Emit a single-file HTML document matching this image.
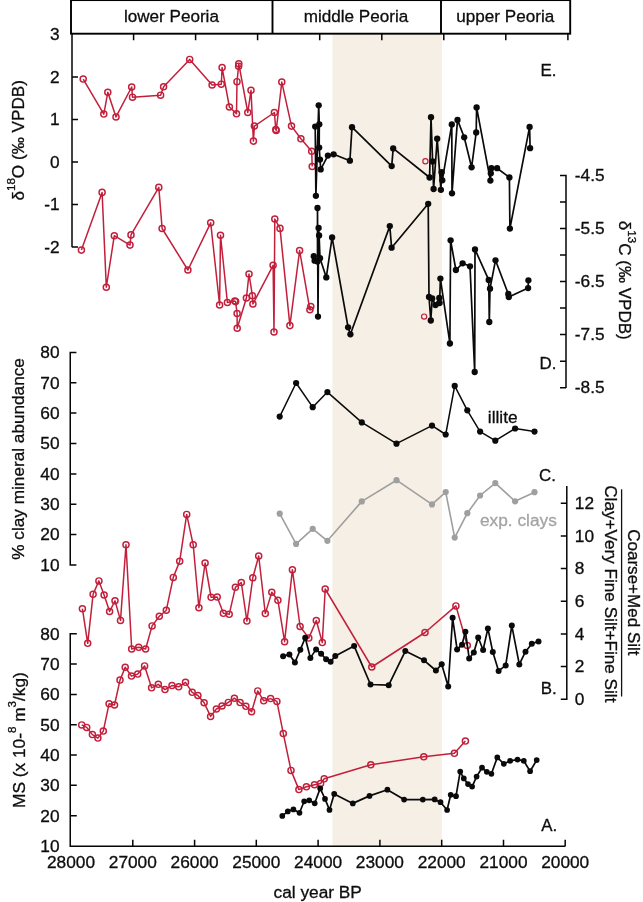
<!DOCTYPE html><html><head><meta charset="utf-8"><title>Peoria loess proxies</title>
<style>html,body{margin:0;padding:0;background:#fff}svg{display:block}text{font-family:"Liberation Sans",Arial,Helvetica,sans-serif;fill:#0d0d0d;stroke:#0d0d0d;stroke-width:0.3px}</style></head><body>
<svg width="643" height="902" viewBox="0 0 643 902">
<rect width="643" height="902" fill="#fff"/>
<rect x="332.4" y="33" width="109.5" height="813" fill="#f5efe5"/>
<rect x="71" y="0.1" width="499.2" height="33.6" stroke="#000" stroke-width="1.9" fill="none"/>
<path d="M272.5 0V33.7M441 0V33.7" stroke="#000" stroke-width="1.9" fill="none"/>
<path d="M133.6 33.5V40.2M195.6 33.5V40.2M257.6 33.5V40.2M319.7 33.5V40.2M381.8 33.5V40.2M443.8 33.5V40.2M505.8 33.5V40.2M567.9 33.5V40.2" stroke="#050505" stroke-width="1.5" fill="none"/>
<text x="171.4" y="22.4" font-size="17.1" text-anchor="middle">lower Peoria</text>
<text x="356" y="22.4" font-size="17.1" text-anchor="middle">middle Peoria</text>
<text x="505.3" y="22.4" font-size="17.1" text-anchor="middle">upper Peoria</text>
<path d="M72 33V247.3M72 77.1H78M72 119.6H78M72 162.1H78M72 204.6H78M72 247.1H78" stroke="#050505" stroke-width="1.5" fill="none"/>
<text x="59.6" y="40.4" font-size="17.3" text-anchor="end">3</text>
<text x="59.6" y="82.9" font-size="17.3" text-anchor="end">2</text>
<text x="59.6" y="125.4" font-size="17.3" text-anchor="end">1</text>
<text x="59.6" y="167.9" font-size="17.3" text-anchor="end">0</text>
<text x="59.6" y="210.4" font-size="17.3" text-anchor="end">-1</text>
<text x="59.6" y="252.9" font-size="17.3" text-anchor="end">-2</text>
<path d="M70.25 351.7V565.8M70.25 352.4H76.4M70.25 382.8H76.4M70.25 413.1H76.4M70.25 443.5H76.4M70.25 473.9H76.4M70.25 504.2H76.4M70.25 534.6H76.4M70.25 565.0H76.4" stroke="#050505" stroke-width="1.5" fill="none"/>
<text x="59.6" y="358.2" font-size="17.3" text-anchor="end">80</text>
<text x="59.6" y="388.6" font-size="17.3" text-anchor="end">70</text>
<text x="59.6" y="418.9" font-size="17.3" text-anchor="end">60</text>
<text x="59.6" y="449.3" font-size="17.3" text-anchor="end">50</text>
<text x="59.6" y="479.7" font-size="17.3" text-anchor="end">40</text>
<text x="59.6" y="510.1" font-size="17.3" text-anchor="end">30</text>
<text x="59.6" y="540.4" font-size="17.3" text-anchor="end">20</text>
<text x="59.6" y="570.8" font-size="17.3" text-anchor="end">10</text>
<path d="M70.25 633.1V846.25H565.3M70.25 633.8H76.8M70.25 664.1H76.8M70.25 694.4H76.8M70.25 724.7H76.8M70.25 755.0H76.8M70.25 785.3H76.8M70.25 815.7H76.8M132.8 846.25V839.8M194.6 846.25V839.8M256.3 846.25V839.8M318.1 846.25V839.8M379.9 846.25V839.8M441.7 846.25V839.8M503.5 846.25V839.8M565.2 846.25V839.8" stroke="#050505" stroke-width="1.5" fill="none"/>
<text x="59.6" y="639.6" font-size="17.3" text-anchor="end">80</text>
<text x="59.6" y="669.9" font-size="17.3" text-anchor="end">70</text>
<text x="59.6" y="700.2" font-size="17.3" text-anchor="end">60</text>
<text x="59.6" y="730.5" font-size="17.3" text-anchor="end">50</text>
<text x="59.6" y="760.8" font-size="17.3" text-anchor="end">40</text>
<text x="59.6" y="791.1" font-size="17.3" text-anchor="end">30</text>
<text x="59.6" y="821.5" font-size="17.3" text-anchor="end">20</text>
<text x="59.6" y="851.8" font-size="17.3" text-anchor="end">10</text>
<text x="71.0" y="868.1" font-size="17.3" text-anchor="middle">28000</text>
<text x="132.8" y="868.1" font-size="17.3" text-anchor="middle">27000</text>
<text x="194.6" y="868.1" font-size="17.3" text-anchor="middle">26000</text>
<text x="256.3" y="868.1" font-size="17.3" text-anchor="middle">25000</text>
<text x="318.1" y="868.1" font-size="17.3" text-anchor="middle">24000</text>
<text x="379.9" y="868.1" font-size="17.3" text-anchor="middle">23000</text>
<text x="441.7" y="868.1" font-size="17.3" text-anchor="middle">22000</text>
<text x="503.5" y="868.1" font-size="17.3" text-anchor="middle">21000</text>
<text x="565.2" y="868.1" font-size="17.3" text-anchor="middle">20000</text>
<text x="317.7" y="897.8" font-size="17.3" text-anchor="middle">cal year BP</text>
<path d="M566 174.7V388M566 175.4H560M566 201.9H560M566 228.5H560M566 255.0H560M566 281.6H560M566 308.1H560M566 334.6H560M566 361.2H560M566 387.7H560" stroke="#050505" stroke-width="1.5" fill="none"/>
<text x="574.8" y="181.1" font-size="17.3">-4.5</text>
<text x="574.8" y="234.2" font-size="17.3">-5.5</text>
<text x="574.8" y="287.3" font-size="17.3">-6.5</text>
<text x="574.8" y="340.3" font-size="17.3">-7.5</text>
<text x="574.8" y="393.4" font-size="17.3">-8.5</text>
<path d="M566.8 485.9V700.0M566.8 699.3H560.8M566.8 666.6H560.8M566.8 633.9H560.8M566.8 601.3H560.8M566.8 568.6H560.8M566.8 535.9H560.8M566.8 503.2H560.8" stroke="#050505" stroke-width="1.5" fill="none"/>
<text x="574.8" y="705.0" font-size="17.3">0</text>
<text x="574.8" y="672.3" font-size="17.3">2</text>
<text x="574.8" y="639.6" font-size="17.3">4</text>
<text x="574.8" y="607.0" font-size="17.3">6</text>
<text x="574.8" y="574.3" font-size="17.3">8</text>
<text x="574.8" y="541.6" font-size="17.3">10</text>
<text x="574.8" y="508.9" font-size="17.3">12</text>
<text transform="translate(24.2 200.6) rotate(-90)" font-size="17.15">δ<tspan dy="-9" font-size="11.6">18</tspan><tspan dy="9">O (‰ VPDB)</tspan></text>
<text transform="translate(24.3 559.7) rotate(-90)" font-size="17.2">% clay mineral abundance</text>
<text transform="translate(24.5 808) rotate(-90)" font-size="17.3">MS (x 10-<tspan dy="-9" font-size="11.6">8</tspan><tspan dy="9"> m</tspan><tspan dy="-9" font-size="11.6">3</tspan><tspan dy="9">/kg)</tspan></text>
<text transform="translate(618.8 220.8) rotate(90)" font-size="17.05">δ<tspan dy="-9" font-size="11.6">13</tspan><tspan dy="9">C (‰ VPDB)</tspan></text>
<text transform="translate(605.4 485.2) rotate(90)" font-size="17.15">Clay+Very Fine Silt+Fine Silt</text>
<path d="M621.6 489.3V696.5" stroke="#111" stroke-width="1.3"/>
<text transform="translate(627.8 529.2) rotate(90)" font-size="17.05">Coarse+Med Silt</text>
<text x="540.6" y="76.1" font-size="16.9">E.</text>
<text x="539.6" y="368.7" font-size="16.9">D.</text>
<text x="539.0" y="481" font-size="16.9">C.</text>
<text x="540.8" y="693.5" font-size="16.9">B.</text>
<text x="541.2" y="831.1" font-size="16.9">A.</text>
<text x="487.8" y="423.0" font-size="17.3">illite</text>
<text x="480" y="525.8" font-size="17.3" style="fill:#a4a4a4;stroke:#a4a4a4">exp. clays</text>
<polyline points="279.7,513.7 296.1,543.9 312.7,528.8 327.4,540.8 361.8,501.4 396.5,480.2 432.0,504.4 445.7,492.1 454.7,537.6 467.3,513.2 480.1,495.5 495.3,483.1 515.1,501.3 534.5,492.2" fill="none" stroke="#9f9f9f" stroke-width="1.6" stroke-linejoin="round"/>
<circle cx="279.7" cy="513.7" r="3.1" fill="#9f9f9f"/><circle cx="296.1" cy="543.9" r="3.1" fill="#9f9f9f"/><circle cx="312.7" cy="528.8" r="3.1" fill="#9f9f9f"/><circle cx="327.4" cy="540.8" r="3.1" fill="#9f9f9f"/><circle cx="361.8" cy="501.4" r="3.1" fill="#9f9f9f"/><circle cx="396.5" cy="480.2" r="3.1" fill="#9f9f9f"/><circle cx="432.0" cy="504.4" r="3.1" fill="#9f9f9f"/><circle cx="445.7" cy="492.1" r="3.1" fill="#9f9f9f"/><circle cx="454.7" cy="537.6" r="3.1" fill="#9f9f9f"/><circle cx="467.3" cy="513.2" r="3.1" fill="#9f9f9f"/><circle cx="480.1" cy="495.5" r="3.1" fill="#9f9f9f"/><circle cx="495.3" cy="483.1" r="3.1" fill="#9f9f9f"/><circle cx="515.1" cy="501.3" r="3.1" fill="#9f9f9f"/><circle cx="534.5" cy="492.2" r="3.1" fill="#9f9f9f"/>
<polyline points="279.7,416.6 296.1,383.0 312.7,407.2 327.4,392.1 361.8,422.4 396.5,443.7 432.0,425.6 445.7,434.5 454.7,385.9 467.3,410.3 480.1,431.6 495.3,440.7 515.1,428.5 534.5,431.6" fill="none" stroke="#0a0a0a" stroke-width="1.5" stroke-linejoin="round"/>
<circle cx="279.7" cy="416.6" r="3.1" fill="#0a0a0a"/><circle cx="296.1" cy="383.0" r="3.1" fill="#0a0a0a"/><circle cx="312.7" cy="407.2" r="3.1" fill="#0a0a0a"/><circle cx="327.4" cy="392.1" r="3.1" fill="#0a0a0a"/><circle cx="361.8" cy="422.4" r="3.1" fill="#0a0a0a"/><circle cx="396.5" cy="443.7" r="3.1" fill="#0a0a0a"/><circle cx="432.0" cy="425.6" r="3.1" fill="#0a0a0a"/><circle cx="445.7" cy="434.5" r="3.1" fill="#0a0a0a"/><circle cx="454.7" cy="385.9" r="3.1" fill="#0a0a0a"/><circle cx="467.3" cy="410.3" r="3.1" fill="#0a0a0a"/><circle cx="480.1" cy="431.6" r="3.1" fill="#0a0a0a"/><circle cx="495.3" cy="440.7" r="3.1" fill="#0a0a0a"/><circle cx="515.1" cy="428.5" r="3.1" fill="#0a0a0a"/><circle cx="534.5" cy="431.6" r="3.1" fill="#0a0a0a"/>
<polyline points="83.2,79.1 103.8,114.1 107.8,92.3 116.0,116.9 131.7,87.0 132.5,97.2 160.6,95.2 163.6,86.8 189.7,59.4 212.1,85.0 221.3,84.2 222.1,67.6 229.4,107.0 236.5,113.8 237.0,81.7 238.6,66.2 238.8,63.8 247.8,112.5 251.0,90.3 253.4,141.1 254.4,126.1 274.4,112.5 275.8,129.5 276.2,130.5 281.8,82.1 291.5,126.1 300.9,138.8 311.7,151.3 312.2,166.5" fill="none" stroke="#c21f3b" stroke-width="1.5" stroke-linejoin="round"/>
<circle cx="83.2" cy="79.1" r="3.05" fill="none" stroke="#c21f3b" stroke-width="1.45"/><circle cx="103.8" cy="114.1" r="3.05" fill="none" stroke="#c21f3b" stroke-width="1.45"/><circle cx="107.8" cy="92.3" r="3.05" fill="none" stroke="#c21f3b" stroke-width="1.45"/><circle cx="116.0" cy="116.9" r="3.05" fill="none" stroke="#c21f3b" stroke-width="1.45"/><circle cx="131.7" cy="87.0" r="3.05" fill="none" stroke="#c21f3b" stroke-width="1.45"/><circle cx="132.5" cy="97.2" r="3.05" fill="none" stroke="#c21f3b" stroke-width="1.45"/><circle cx="160.6" cy="95.2" r="3.05" fill="none" stroke="#c21f3b" stroke-width="1.45"/><circle cx="163.6" cy="86.8" r="3.05" fill="none" stroke="#c21f3b" stroke-width="1.45"/><circle cx="189.7" cy="59.4" r="3.05" fill="none" stroke="#c21f3b" stroke-width="1.45"/><circle cx="212.1" cy="85.0" r="3.05" fill="none" stroke="#c21f3b" stroke-width="1.45"/><circle cx="221.3" cy="84.2" r="3.05" fill="none" stroke="#c21f3b" stroke-width="1.45"/><circle cx="222.1" cy="67.6" r="3.05" fill="none" stroke="#c21f3b" stroke-width="1.45"/><circle cx="229.4" cy="107.0" r="3.05" fill="none" stroke="#c21f3b" stroke-width="1.45"/><circle cx="236.5" cy="113.8" r="3.05" fill="none" stroke="#c21f3b" stroke-width="1.45"/><circle cx="237.0" cy="81.7" r="3.05" fill="none" stroke="#c21f3b" stroke-width="1.45"/><circle cx="238.6" cy="66.2" r="3.05" fill="none" stroke="#c21f3b" stroke-width="1.45"/><circle cx="238.8" cy="63.8" r="3.05" fill="none" stroke="#c21f3b" stroke-width="1.45"/><circle cx="247.8" cy="112.5" r="3.05" fill="none" stroke="#c21f3b" stroke-width="1.45"/><circle cx="251.0" cy="90.3" r="3.05" fill="none" stroke="#c21f3b" stroke-width="1.45"/><circle cx="253.4" cy="141.1" r="3.05" fill="none" stroke="#c21f3b" stroke-width="1.45"/><circle cx="254.4" cy="126.1" r="3.05" fill="none" stroke="#c21f3b" stroke-width="1.45"/><circle cx="274.4" cy="112.5" r="3.05" fill="none" stroke="#c21f3b" stroke-width="1.45"/><circle cx="275.8" cy="129.5" r="3.05" fill="none" stroke="#c21f3b" stroke-width="1.45"/><circle cx="276.2" cy="130.5" r="3.05" fill="none" stroke="#c21f3b" stroke-width="1.45"/><circle cx="281.8" cy="82.1" r="3.05" fill="none" stroke="#c21f3b" stroke-width="1.45"/><circle cx="291.5" cy="126.1" r="3.05" fill="none" stroke="#c21f3b" stroke-width="1.45"/><circle cx="300.9" cy="138.8" r="3.05" fill="none" stroke="#c21f3b" stroke-width="1.45"/><circle cx="311.7" cy="151.3" r="3.05" fill="none" stroke="#c21f3b" stroke-width="1.45"/><circle cx="312.2" cy="166.5" r="3.05" fill="none" stroke="#c21f3b" stroke-width="1.45"/>
<polyline points="81.4,250.1 102.1,192.4 106.3,287.2 114.3,235.7 130.0,245.1 131.0,234.9 158.8,187.4 162.1,228.5 187.9,270.0 210.7,222.8 219.6,305.0 220.5,235.2 227.4,302.5 234.8,301.0 235.6,301.6 237.1,313.5 237.2,328.2 246.4,298.0 249.0,274.1 252.4,295.7 252.9,304.0 273.1,265.3 274.0,332.0 274.8,219.0 280.0,228.4 289.9,325.6 299.6,250.6 309.9,309.7 310.8,306.6" fill="none" stroke="#c21f3b" stroke-width="1.5" stroke-linejoin="round"/>
<circle cx="81.4" cy="250.1" r="3.05" fill="none" stroke="#c21f3b" stroke-width="1.45"/><circle cx="102.1" cy="192.4" r="3.05" fill="none" stroke="#c21f3b" stroke-width="1.45"/><circle cx="106.3" cy="287.2" r="3.05" fill="none" stroke="#c21f3b" stroke-width="1.45"/><circle cx="114.3" cy="235.7" r="3.05" fill="none" stroke="#c21f3b" stroke-width="1.45"/><circle cx="130.0" cy="245.1" r="3.05" fill="none" stroke="#c21f3b" stroke-width="1.45"/><circle cx="131.0" cy="234.9" r="3.05" fill="none" stroke="#c21f3b" stroke-width="1.45"/><circle cx="158.8" cy="187.4" r="3.05" fill="none" stroke="#c21f3b" stroke-width="1.45"/><circle cx="162.1" cy="228.5" r="3.05" fill="none" stroke="#c21f3b" stroke-width="1.45"/><circle cx="187.9" cy="270.0" r="3.05" fill="none" stroke="#c21f3b" stroke-width="1.45"/><circle cx="210.7" cy="222.8" r="3.05" fill="none" stroke="#c21f3b" stroke-width="1.45"/><circle cx="219.6" cy="305.0" r="3.05" fill="none" stroke="#c21f3b" stroke-width="1.45"/><circle cx="220.5" cy="235.2" r="3.05" fill="none" stroke="#c21f3b" stroke-width="1.45"/><circle cx="227.4" cy="302.5" r="3.05" fill="none" stroke="#c21f3b" stroke-width="1.45"/><circle cx="234.8" cy="301.0" r="3.05" fill="none" stroke="#c21f3b" stroke-width="1.45"/><circle cx="235.6" cy="301.6" r="3.05" fill="none" stroke="#c21f3b" stroke-width="1.45"/><circle cx="237.1" cy="313.5" r="3.05" fill="none" stroke="#c21f3b" stroke-width="1.45"/><circle cx="237.2" cy="328.2" r="3.05" fill="none" stroke="#c21f3b" stroke-width="1.45"/><circle cx="246.4" cy="298.0" r="3.05" fill="none" stroke="#c21f3b" stroke-width="1.45"/><circle cx="249.0" cy="274.1" r="3.05" fill="none" stroke="#c21f3b" stroke-width="1.45"/><circle cx="252.4" cy="295.7" r="3.05" fill="none" stroke="#c21f3b" stroke-width="1.45"/><circle cx="252.9" cy="304.0" r="3.05" fill="none" stroke="#c21f3b" stroke-width="1.45"/><circle cx="273.1" cy="265.3" r="3.05" fill="none" stroke="#c21f3b" stroke-width="1.45"/><circle cx="274.0" cy="332.0" r="3.05" fill="none" stroke="#c21f3b" stroke-width="1.45"/><circle cx="274.8" cy="219.0" r="3.05" fill="none" stroke="#c21f3b" stroke-width="1.45"/><circle cx="280.0" cy="228.4" r="3.05" fill="none" stroke="#c21f3b" stroke-width="1.45"/><circle cx="289.9" cy="325.6" r="3.05" fill="none" stroke="#c21f3b" stroke-width="1.45"/><circle cx="299.6" cy="250.6" r="3.05" fill="none" stroke="#c21f3b" stroke-width="1.45"/><circle cx="309.9" cy="309.7" r="3.05" fill="none" stroke="#c21f3b" stroke-width="1.45"/><circle cx="310.8" cy="306.6" r="3.05" fill="none" stroke="#c21f3b" stroke-width="1.45"/>
<polyline points="82.4,608.7 87.7,643.3 93.1,594.3 98.9,580.9 104.1,595.0 109.6,611.5 115.0,600.8 120.5,620.4 126.0,544.8 131.7,649.0 138.7,647.3 145.6,649.0 152.1,625.9 159.3,616.2 166.3,610.2 173.3,577.4 179.7,561.2 186.7,514.4 193.2,544.8 198.9,607.7 205.1,563.0 211.1,597.3 217.2,597.1 223.4,613.3 229.2,614.3 235.4,587.3 241.3,582.5 246.9,621.1 252.8,577.8 258.7,556.0 265.3,613.6 271.8,592.2 277.9,600.3 284.6,641.7 292.4,569.7 300.1,626.5 308.8,638.1 316.3,620.5 322.3,642.6 325.2,589.0 371.8,667.0 425.0,632.5 455.9,605.9 467.3,645.5" fill="none" stroke="#c21f3b" stroke-width="1.5" stroke-linejoin="round"/>
<circle cx="82.4" cy="608.7" r="3.05" fill="none" stroke="#c21f3b" stroke-width="1.45"/><circle cx="87.7" cy="643.3" r="3.05" fill="none" stroke="#c21f3b" stroke-width="1.45"/><circle cx="93.1" cy="594.3" r="3.05" fill="none" stroke="#c21f3b" stroke-width="1.45"/><circle cx="98.9" cy="580.9" r="3.05" fill="none" stroke="#c21f3b" stroke-width="1.45"/><circle cx="104.1" cy="595.0" r="3.05" fill="none" stroke="#c21f3b" stroke-width="1.45"/><circle cx="109.6" cy="611.5" r="3.05" fill="none" stroke="#c21f3b" stroke-width="1.45"/><circle cx="115.0" cy="600.8" r="3.05" fill="none" stroke="#c21f3b" stroke-width="1.45"/><circle cx="120.5" cy="620.4" r="3.05" fill="none" stroke="#c21f3b" stroke-width="1.45"/><circle cx="126.0" cy="544.8" r="3.05" fill="none" stroke="#c21f3b" stroke-width="1.45"/><circle cx="131.7" cy="649.0" r="3.05" fill="none" stroke="#c21f3b" stroke-width="1.45"/><circle cx="138.7" cy="647.3" r="3.05" fill="none" stroke="#c21f3b" stroke-width="1.45"/><circle cx="145.6" cy="649.0" r="3.05" fill="none" stroke="#c21f3b" stroke-width="1.45"/><circle cx="152.1" cy="625.9" r="3.05" fill="none" stroke="#c21f3b" stroke-width="1.45"/><circle cx="159.3" cy="616.2" r="3.05" fill="none" stroke="#c21f3b" stroke-width="1.45"/><circle cx="166.3" cy="610.2" r="3.05" fill="none" stroke="#c21f3b" stroke-width="1.45"/><circle cx="173.3" cy="577.4" r="3.05" fill="none" stroke="#c21f3b" stroke-width="1.45"/><circle cx="179.7" cy="561.2" r="3.05" fill="none" stroke="#c21f3b" stroke-width="1.45"/><circle cx="186.7" cy="514.4" r="3.05" fill="none" stroke="#c21f3b" stroke-width="1.45"/><circle cx="193.2" cy="544.8" r="3.05" fill="none" stroke="#c21f3b" stroke-width="1.45"/><circle cx="198.9" cy="607.7" r="3.05" fill="none" stroke="#c21f3b" stroke-width="1.45"/><circle cx="205.1" cy="563.0" r="3.05" fill="none" stroke="#c21f3b" stroke-width="1.45"/><circle cx="211.1" cy="597.3" r="3.05" fill="none" stroke="#c21f3b" stroke-width="1.45"/><circle cx="217.2" cy="597.1" r="3.05" fill="none" stroke="#c21f3b" stroke-width="1.45"/><circle cx="223.4" cy="613.3" r="3.05" fill="none" stroke="#c21f3b" stroke-width="1.45"/><circle cx="229.2" cy="614.3" r="3.05" fill="none" stroke="#c21f3b" stroke-width="1.45"/><circle cx="235.4" cy="587.3" r="3.05" fill="none" stroke="#c21f3b" stroke-width="1.45"/><circle cx="241.3" cy="582.5" r="3.05" fill="none" stroke="#c21f3b" stroke-width="1.45"/><circle cx="246.9" cy="621.1" r="3.05" fill="none" stroke="#c21f3b" stroke-width="1.45"/><circle cx="252.8" cy="577.8" r="3.05" fill="none" stroke="#c21f3b" stroke-width="1.45"/><circle cx="258.7" cy="556.0" r="3.05" fill="none" stroke="#c21f3b" stroke-width="1.45"/><circle cx="265.3" cy="613.6" r="3.05" fill="none" stroke="#c21f3b" stroke-width="1.45"/><circle cx="271.8" cy="592.2" r="3.05" fill="none" stroke="#c21f3b" stroke-width="1.45"/><circle cx="277.9" cy="600.3" r="3.05" fill="none" stroke="#c21f3b" stroke-width="1.45"/><circle cx="284.6" cy="641.7" r="3.05" fill="none" stroke="#c21f3b" stroke-width="1.45"/><circle cx="292.4" cy="569.7" r="3.05" fill="none" stroke="#c21f3b" stroke-width="1.45"/><circle cx="300.1" cy="626.5" r="3.05" fill="none" stroke="#c21f3b" stroke-width="1.45"/><circle cx="308.8" cy="638.1" r="3.05" fill="none" stroke="#c21f3b" stroke-width="1.45"/><circle cx="316.3" cy="620.5" r="3.05" fill="none" stroke="#c21f3b" stroke-width="1.45"/><circle cx="322.3" cy="642.6" r="3.05" fill="none" stroke="#c21f3b" stroke-width="1.45"/><circle cx="325.2" cy="589.0" r="3.05" fill="none" stroke="#c21f3b" stroke-width="1.45"/><circle cx="371.8" cy="667.0" r="3.05" fill="none" stroke="#c21f3b" stroke-width="1.45"/><circle cx="425.0" cy="632.5" r="3.05" fill="none" stroke="#c21f3b" stroke-width="1.45"/><circle cx="455.9" cy="605.9" r="3.05" fill="none" stroke="#c21f3b" stroke-width="1.45"/><circle cx="467.3" cy="645.5" r="3.05" fill="none" stroke="#c21f3b" stroke-width="1.45"/>
<polyline points="81.7,724.9 86.7,727.4 92.4,734.6 97.9,738.1 103.3,731.1 109.1,703.7 114.5,705.0 120.0,680.1 125.2,667.2 131.5,676.1 137.7,674.1 144.6,665.9 151.6,687.8 158.3,684.3 165.0,689.6 172.0,685.6 178.7,686.8 185.5,682.3 192.2,692.3 197.9,695.5 204.1,702.7 210.6,716.4 216.4,709.0 222.0,706.0 228.3,702.4 234.4,698.2 240.1,702.6 245.9,706.3 251.6,711.7 257.7,690.9 263.7,700.8 270.6,698.6 276.9,701.4 283.3,733.6 291.0,770.4 298.9,789.6 306.4,786.8 314.5,784.7 320.6,783.5 324.2,778.8 370.8,764.8 423.8,756.8 454.4,753.3 465.4,741.1" fill="none" stroke="#c21f3b" stroke-width="1.5" stroke-linejoin="round"/>
<circle cx="81.7" cy="724.9" r="3.05" fill="none" stroke="#c21f3b" stroke-width="1.45"/><circle cx="86.7" cy="727.4" r="3.05" fill="none" stroke="#c21f3b" stroke-width="1.45"/><circle cx="92.4" cy="734.6" r="3.05" fill="none" stroke="#c21f3b" stroke-width="1.45"/><circle cx="97.9" cy="738.1" r="3.05" fill="none" stroke="#c21f3b" stroke-width="1.45"/><circle cx="103.3" cy="731.1" r="3.05" fill="none" stroke="#c21f3b" stroke-width="1.45"/><circle cx="109.1" cy="703.7" r="3.05" fill="none" stroke="#c21f3b" stroke-width="1.45"/><circle cx="114.5" cy="705.0" r="3.05" fill="none" stroke="#c21f3b" stroke-width="1.45"/><circle cx="120.0" cy="680.1" r="3.05" fill="none" stroke="#c21f3b" stroke-width="1.45"/><circle cx="125.2" cy="667.2" r="3.05" fill="none" stroke="#c21f3b" stroke-width="1.45"/><circle cx="131.5" cy="676.1" r="3.05" fill="none" stroke="#c21f3b" stroke-width="1.45"/><circle cx="137.7" cy="674.1" r="3.05" fill="none" stroke="#c21f3b" stroke-width="1.45"/><circle cx="144.6" cy="665.9" r="3.05" fill="none" stroke="#c21f3b" stroke-width="1.45"/><circle cx="151.6" cy="687.8" r="3.05" fill="none" stroke="#c21f3b" stroke-width="1.45"/><circle cx="158.3" cy="684.3" r="3.05" fill="none" stroke="#c21f3b" stroke-width="1.45"/><circle cx="165.0" cy="689.6" r="3.05" fill="none" stroke="#c21f3b" stroke-width="1.45"/><circle cx="172.0" cy="685.6" r="3.05" fill="none" stroke="#c21f3b" stroke-width="1.45"/><circle cx="178.7" cy="686.8" r="3.05" fill="none" stroke="#c21f3b" stroke-width="1.45"/><circle cx="185.5" cy="682.3" r="3.05" fill="none" stroke="#c21f3b" stroke-width="1.45"/><circle cx="192.2" cy="692.3" r="3.05" fill="none" stroke="#c21f3b" stroke-width="1.45"/><circle cx="197.9" cy="695.5" r="3.05" fill="none" stroke="#c21f3b" stroke-width="1.45"/><circle cx="204.1" cy="702.7" r="3.05" fill="none" stroke="#c21f3b" stroke-width="1.45"/><circle cx="210.6" cy="716.4" r="3.05" fill="none" stroke="#c21f3b" stroke-width="1.45"/><circle cx="216.4" cy="709.0" r="3.05" fill="none" stroke="#c21f3b" stroke-width="1.45"/><circle cx="222.0" cy="706.0" r="3.05" fill="none" stroke="#c21f3b" stroke-width="1.45"/><circle cx="228.3" cy="702.4" r="3.05" fill="none" stroke="#c21f3b" stroke-width="1.45"/><circle cx="234.4" cy="698.2" r="3.05" fill="none" stroke="#c21f3b" stroke-width="1.45"/><circle cx="240.1" cy="702.6" r="3.05" fill="none" stroke="#c21f3b" stroke-width="1.45"/><circle cx="245.9" cy="706.3" r="3.05" fill="none" stroke="#c21f3b" stroke-width="1.45"/><circle cx="251.6" cy="711.7" r="3.05" fill="none" stroke="#c21f3b" stroke-width="1.45"/><circle cx="257.7" cy="690.9" r="3.05" fill="none" stroke="#c21f3b" stroke-width="1.45"/><circle cx="263.7" cy="700.8" r="3.05" fill="none" stroke="#c21f3b" stroke-width="1.45"/><circle cx="270.6" cy="698.6" r="3.05" fill="none" stroke="#c21f3b" stroke-width="1.45"/><circle cx="276.9" cy="701.4" r="3.05" fill="none" stroke="#c21f3b" stroke-width="1.45"/><circle cx="283.3" cy="733.6" r="3.05" fill="none" stroke="#c21f3b" stroke-width="1.45"/><circle cx="291.0" cy="770.4" r="3.05" fill="none" stroke="#c21f3b" stroke-width="1.45"/><circle cx="298.9" cy="789.6" r="3.05" fill="none" stroke="#c21f3b" stroke-width="1.45"/><circle cx="306.4" cy="786.8" r="3.05" fill="none" stroke="#c21f3b" stroke-width="1.45"/><circle cx="314.5" cy="784.7" r="3.05" fill="none" stroke="#c21f3b" stroke-width="1.45"/><circle cx="320.6" cy="783.5" r="3.05" fill="none" stroke="#c21f3b" stroke-width="1.45"/><circle cx="324.2" cy="778.8" r="3.05" fill="none" stroke="#c21f3b" stroke-width="1.45"/><circle cx="370.8" cy="764.8" r="3.05" fill="none" stroke="#c21f3b" stroke-width="1.45"/><circle cx="423.8" cy="756.8" r="3.05" fill="none" stroke="#c21f3b" stroke-width="1.45"/><circle cx="454.4" cy="753.3" r="3.05" fill="none" stroke="#c21f3b" stroke-width="1.45"/><circle cx="465.4" cy="741.1" r="3.05" fill="none" stroke="#c21f3b" stroke-width="1.45"/>
<circle cx="425.4" cy="161.2" r="2.6" fill="none" stroke="#c21f3b" stroke-width="1.2"/>
<circle cx="424.1" cy="316.6" r="2.6" fill="none" stroke="#c21f3b" stroke-width="1.2"/>
<polyline points="315.2,126.6 315.9,195.8 318.7,105.3 319.3,124.3 319.2,147.6 320.0,159.6 320.7,169.4 327.9,155.6 333.6,154.3 349.9,160.7 352.0,127.2 391.7,166.1 393.2,148.4 429.6,177.5 431.0,117.2 432.6,161.5 433.6,189.0 437.2,138.7 440.9,189.8 441.6,172.2 442.3,180.3 451.8,124.4 452.0,193.3 457.5,119.9 464.2,137.3 471.6,167.3 476.2,132.5 476.6,107.4 490.4,180.6 490.8,173.3 491.4,168.2 497.1,168.2 509.4,177.4 509.9,228.6 529.6,126.9 530.1,148.2" fill="none" stroke="#0a0a0a" stroke-width="1.7" stroke-linejoin="round"/>
<circle cx="315.2" cy="126.6" r="3.15" fill="#0a0a0a"/><circle cx="315.9" cy="195.8" r="3.15" fill="#0a0a0a"/><circle cx="318.7" cy="105.3" r="3.15" fill="#0a0a0a"/><circle cx="319.3" cy="124.3" r="3.15" fill="#0a0a0a"/><circle cx="319.2" cy="147.6" r="3.15" fill="#0a0a0a"/><circle cx="320.0" cy="159.6" r="3.15" fill="#0a0a0a"/><circle cx="320.7" cy="169.4" r="3.15" fill="#0a0a0a"/><circle cx="327.9" cy="155.6" r="3.15" fill="#0a0a0a"/><circle cx="333.6" cy="154.3" r="3.15" fill="#0a0a0a"/><circle cx="349.9" cy="160.7" r="3.15" fill="#0a0a0a"/><circle cx="352.0" cy="127.2" r="3.15" fill="#0a0a0a"/><circle cx="391.7" cy="166.1" r="3.15" fill="#0a0a0a"/><circle cx="393.2" cy="148.4" r="3.15" fill="#0a0a0a"/><circle cx="429.6" cy="177.5" r="3.15" fill="#0a0a0a"/><circle cx="431.0" cy="117.2" r="3.15" fill="#0a0a0a"/><circle cx="432.6" cy="161.5" r="3.15" fill="#0a0a0a"/><circle cx="433.6" cy="189.0" r="3.15" fill="#0a0a0a"/><circle cx="437.2" cy="138.7" r="3.15" fill="#0a0a0a"/><circle cx="440.9" cy="189.8" r="3.15" fill="#0a0a0a"/><circle cx="441.6" cy="172.2" r="3.15" fill="#0a0a0a"/><circle cx="442.3" cy="180.3" r="3.15" fill="#0a0a0a"/><circle cx="451.8" cy="124.4" r="3.15" fill="#0a0a0a"/><circle cx="452.0" cy="193.3" r="3.15" fill="#0a0a0a"/><circle cx="457.5" cy="119.9" r="3.15" fill="#0a0a0a"/><circle cx="464.2" cy="137.3" r="3.15" fill="#0a0a0a"/><circle cx="471.6" cy="167.3" r="3.15" fill="#0a0a0a"/><circle cx="476.2" cy="132.5" r="3.15" fill="#0a0a0a"/><circle cx="476.6" cy="107.4" r="3.15" fill="#0a0a0a"/><circle cx="490.4" cy="180.6" r="3.15" fill="#0a0a0a"/><circle cx="490.8" cy="173.3" r="3.15" fill="#0a0a0a"/><circle cx="491.4" cy="168.2" r="3.15" fill="#0a0a0a"/><circle cx="497.1" cy="168.2" r="3.15" fill="#0a0a0a"/><circle cx="509.4" cy="177.4" r="3.15" fill="#0a0a0a"/><circle cx="509.9" cy="228.6" r="3.15" fill="#0a0a0a"/><circle cx="529.6" cy="126.9" r="3.15" fill="#0a0a0a"/><circle cx="530.1" cy="148.2" r="3.15" fill="#0a0a0a"/>
<polyline points="313.8,256.2 314.6,260.7 317.5,261.6 317.5,208.0 318.0,316.6 318.6,227.9 319.1,235.4 320.0,258.2 326.3,277.4 332.1,237.4 348.1,327.3 350.4,334.3 389.8,226.1 391.6,247.7 428.2,203.8 429.0,296.9 430.8,320.5 432.2,298.4 435.5,305.1 439.3,297.9 439.6,303.0 440.4,278.6 449.9,343.5 450.6,240.3 455.9,270.0 462.6,263.3 470.0,266.3 474.7,372.0 475.0,249.4 488.7,279.9 489.3,322.0 490.0,288.7 495.5,260.3 508.3,294.0 508.8,297.0 528.1,288.1 528.4,280.3" fill="none" stroke="#0a0a0a" stroke-width="1.7" stroke-linejoin="round"/>
<circle cx="313.8" cy="256.2" r="3.15" fill="#0a0a0a"/><circle cx="314.6" cy="260.7" r="3.15" fill="#0a0a0a"/><circle cx="317.5" cy="261.6" r="3.15" fill="#0a0a0a"/><circle cx="317.5" cy="208.0" r="3.15" fill="#0a0a0a"/><circle cx="318.0" cy="316.6" r="3.15" fill="#0a0a0a"/><circle cx="318.6" cy="227.9" r="3.15" fill="#0a0a0a"/><circle cx="319.1" cy="235.4" r="3.15" fill="#0a0a0a"/><circle cx="320.0" cy="258.2" r="3.15" fill="#0a0a0a"/><circle cx="326.3" cy="277.4" r="3.15" fill="#0a0a0a"/><circle cx="332.1" cy="237.4" r="3.15" fill="#0a0a0a"/><circle cx="348.1" cy="327.3" r="3.15" fill="#0a0a0a"/><circle cx="350.4" cy="334.3" r="3.15" fill="#0a0a0a"/><circle cx="389.8" cy="226.1" r="3.15" fill="#0a0a0a"/><circle cx="391.6" cy="247.7" r="3.15" fill="#0a0a0a"/><circle cx="428.2" cy="203.8" r="3.15" fill="#0a0a0a"/><circle cx="429.0" cy="296.9" r="3.15" fill="#0a0a0a"/><circle cx="430.8" cy="320.5" r="3.15" fill="#0a0a0a"/><circle cx="432.2" cy="298.4" r="3.15" fill="#0a0a0a"/><circle cx="435.5" cy="305.1" r="3.15" fill="#0a0a0a"/><circle cx="439.3" cy="297.9" r="3.15" fill="#0a0a0a"/><circle cx="439.6" cy="303.0" r="3.15" fill="#0a0a0a"/><circle cx="440.4" cy="278.6" r="3.15" fill="#0a0a0a"/><circle cx="449.9" cy="343.5" r="3.15" fill="#0a0a0a"/><circle cx="450.6" cy="240.3" r="3.15" fill="#0a0a0a"/><circle cx="455.9" cy="270.0" r="3.15" fill="#0a0a0a"/><circle cx="462.6" cy="263.3" r="3.15" fill="#0a0a0a"/><circle cx="470.0" cy="266.3" r="3.15" fill="#0a0a0a"/><circle cx="474.7" cy="372.0" r="3.15" fill="#0a0a0a"/><circle cx="475.0" cy="249.4" r="3.15" fill="#0a0a0a"/><circle cx="488.7" cy="279.9" r="3.15" fill="#0a0a0a"/><circle cx="489.3" cy="322.0" r="3.15" fill="#0a0a0a"/><circle cx="490.0" cy="288.7" r="3.15" fill="#0a0a0a"/><circle cx="495.5" cy="260.3" r="3.15" fill="#0a0a0a"/><circle cx="508.3" cy="294.0" r="3.15" fill="#0a0a0a"/><circle cx="508.8" cy="297.0" r="3.15" fill="#0a0a0a"/><circle cx="528.1" cy="288.1" r="3.15" fill="#0a0a0a"/><circle cx="528.4" cy="280.3" r="3.15" fill="#0a0a0a"/>
<polyline points="283.1,656.3 289.4,654.4 294.9,662.5 300.3,649.8 305.2,637.7 310.4,657.9 316.1,649.4 321.1,653.8 326.1,659.3 330.6,661.7 335.3,655.9 354.1,645.9 370.5,684.5 388.7,685.2 405.3,651.1 424.0,660.3 435.9,670.5 441.7,664.3 448.2,686.6 452.6,617.8 457.1,649.6 462.0,644.7 465.4,631.7 469.2,658.4 473.8,652.5 478.2,637.5 483.1,650.0 487.9,628.4 492.8,652.1 498.6,670.9 505.7,665.4 511.8,625.6 519.3,664.4 525.5,651.7 531.8,643.8 538.5,641.4" fill="none" stroke="#0a0a0a" stroke-width="1.7" stroke-linejoin="round"/>
<circle cx="283.1" cy="656.3" r="3.0" fill="#0a0a0a"/><circle cx="289.4" cy="654.4" r="3.0" fill="#0a0a0a"/><circle cx="294.9" cy="662.5" r="3.0" fill="#0a0a0a"/><circle cx="300.3" cy="649.8" r="3.0" fill="#0a0a0a"/><circle cx="305.2" cy="637.7" r="3.0" fill="#0a0a0a"/><circle cx="310.4" cy="657.9" r="3.0" fill="#0a0a0a"/><circle cx="316.1" cy="649.4" r="3.0" fill="#0a0a0a"/><circle cx="321.1" cy="653.8" r="3.0" fill="#0a0a0a"/><circle cx="326.1" cy="659.3" r="3.0" fill="#0a0a0a"/><circle cx="330.6" cy="661.7" r="3.0" fill="#0a0a0a"/><circle cx="335.3" cy="655.9" r="3.0" fill="#0a0a0a"/><circle cx="354.1" cy="645.9" r="3.0" fill="#0a0a0a"/><circle cx="370.5" cy="684.5" r="3.0" fill="#0a0a0a"/><circle cx="388.7" cy="685.2" r="3.0" fill="#0a0a0a"/><circle cx="405.3" cy="651.1" r="3.0" fill="#0a0a0a"/><circle cx="424.0" cy="660.3" r="3.0" fill="#0a0a0a"/><circle cx="435.9" cy="670.5" r="3.0" fill="#0a0a0a"/><circle cx="441.7" cy="664.3" r="3.0" fill="#0a0a0a"/><circle cx="448.2" cy="686.6" r="3.0" fill="#0a0a0a"/><circle cx="452.6" cy="617.8" r="3.0" fill="#0a0a0a"/><circle cx="457.1" cy="649.6" r="3.0" fill="#0a0a0a"/><circle cx="462.0" cy="644.7" r="3.0" fill="#0a0a0a"/><circle cx="465.4" cy="631.7" r="3.0" fill="#0a0a0a"/><circle cx="469.2" cy="658.4" r="3.0" fill="#0a0a0a"/><circle cx="473.8" cy="652.5" r="3.0" fill="#0a0a0a"/><circle cx="478.2" cy="637.5" r="3.0" fill="#0a0a0a"/><circle cx="483.1" cy="650.0" r="3.0" fill="#0a0a0a"/><circle cx="487.9" cy="628.4" r="3.0" fill="#0a0a0a"/><circle cx="492.8" cy="652.1" r="3.0" fill="#0a0a0a"/><circle cx="498.6" cy="670.9" r="3.0" fill="#0a0a0a"/><circle cx="505.7" cy="665.4" r="3.0" fill="#0a0a0a"/><circle cx="511.8" cy="625.6" r="3.0" fill="#0a0a0a"/><circle cx="519.3" cy="664.4" r="3.0" fill="#0a0a0a"/><circle cx="525.5" cy="651.7" r="3.0" fill="#0a0a0a"/><circle cx="531.8" cy="643.8" r="3.0" fill="#0a0a0a"/><circle cx="538.5" cy="641.4" r="3.0" fill="#0a0a0a"/>
<polyline points="282.3,815.9 287.8,811.4 293.4,809.4 299.5,812.8 304.2,801.3 309.2,800.3 314.7,803.3 320.2,788.4 325.0,798.9 329.5,809.9 334.2,793.9 352.8,803.4 369.5,795.9 387.4,789.7 404.1,799.6 422.8,799.6 434.7,799.4 440.5,802.2 447.1,810.0 450.7,794.8 456.0,796.2 460.2,771.6 463.8,778.4 468.0,784.1 472.1,786.6 476.6,776.6 482.0,767.7 486.8,771.8 491.4,773.8 497.3,757.4 503.8,763.8 510.1,760.9 517.5,759.6 523.8,760.9 530.1,771.2 536.7,760.1" fill="none" stroke="#0a0a0a" stroke-width="1.7" stroke-linejoin="round"/>
<circle cx="282.3" cy="815.9" r="2.85" fill="#0a0a0a"/><circle cx="287.8" cy="811.4" r="2.85" fill="#0a0a0a"/><circle cx="293.4" cy="809.4" r="2.85" fill="#0a0a0a"/><circle cx="299.5" cy="812.8" r="2.85" fill="#0a0a0a"/><circle cx="304.2" cy="801.3" r="2.85" fill="#0a0a0a"/><circle cx="309.2" cy="800.3" r="2.85" fill="#0a0a0a"/><circle cx="314.7" cy="803.3" r="2.85" fill="#0a0a0a"/><circle cx="320.2" cy="788.4" r="2.85" fill="#0a0a0a"/><circle cx="325.0" cy="798.9" r="2.85" fill="#0a0a0a"/><circle cx="329.5" cy="809.9" r="2.85" fill="#0a0a0a"/><circle cx="334.2" cy="793.9" r="2.85" fill="#0a0a0a"/><circle cx="352.8" cy="803.4" r="2.85" fill="#0a0a0a"/><circle cx="369.5" cy="795.9" r="2.85" fill="#0a0a0a"/><circle cx="387.4" cy="789.7" r="2.85" fill="#0a0a0a"/><circle cx="404.1" cy="799.6" r="2.85" fill="#0a0a0a"/><circle cx="422.8" cy="799.6" r="2.85" fill="#0a0a0a"/><circle cx="434.7" cy="799.4" r="2.85" fill="#0a0a0a"/><circle cx="440.5" cy="802.2" r="2.85" fill="#0a0a0a"/><circle cx="447.1" cy="810.0" r="2.85" fill="#0a0a0a"/><circle cx="450.7" cy="794.8" r="2.85" fill="#0a0a0a"/><circle cx="456.0" cy="796.2" r="2.85" fill="#0a0a0a"/><circle cx="460.2" cy="771.6" r="2.85" fill="#0a0a0a"/><circle cx="463.8" cy="778.4" r="2.85" fill="#0a0a0a"/><circle cx="468.0" cy="784.1" r="2.85" fill="#0a0a0a"/><circle cx="472.1" cy="786.6" r="2.85" fill="#0a0a0a"/><circle cx="476.6" cy="776.6" r="2.85" fill="#0a0a0a"/><circle cx="482.0" cy="767.7" r="2.85" fill="#0a0a0a"/><circle cx="486.8" cy="771.8" r="2.85" fill="#0a0a0a"/><circle cx="491.4" cy="773.8" r="2.85" fill="#0a0a0a"/><circle cx="497.3" cy="757.4" r="2.85" fill="#0a0a0a"/><circle cx="503.8" cy="763.8" r="2.85" fill="#0a0a0a"/><circle cx="510.1" cy="760.9" r="2.85" fill="#0a0a0a"/><circle cx="517.5" cy="759.6" r="2.85" fill="#0a0a0a"/><circle cx="523.8" cy="760.9" r="2.85" fill="#0a0a0a"/><circle cx="530.1" cy="771.2" r="2.85" fill="#0a0a0a"/><circle cx="536.7" cy="760.1" r="2.85" fill="#0a0a0a"/>
</svg></body></html>
